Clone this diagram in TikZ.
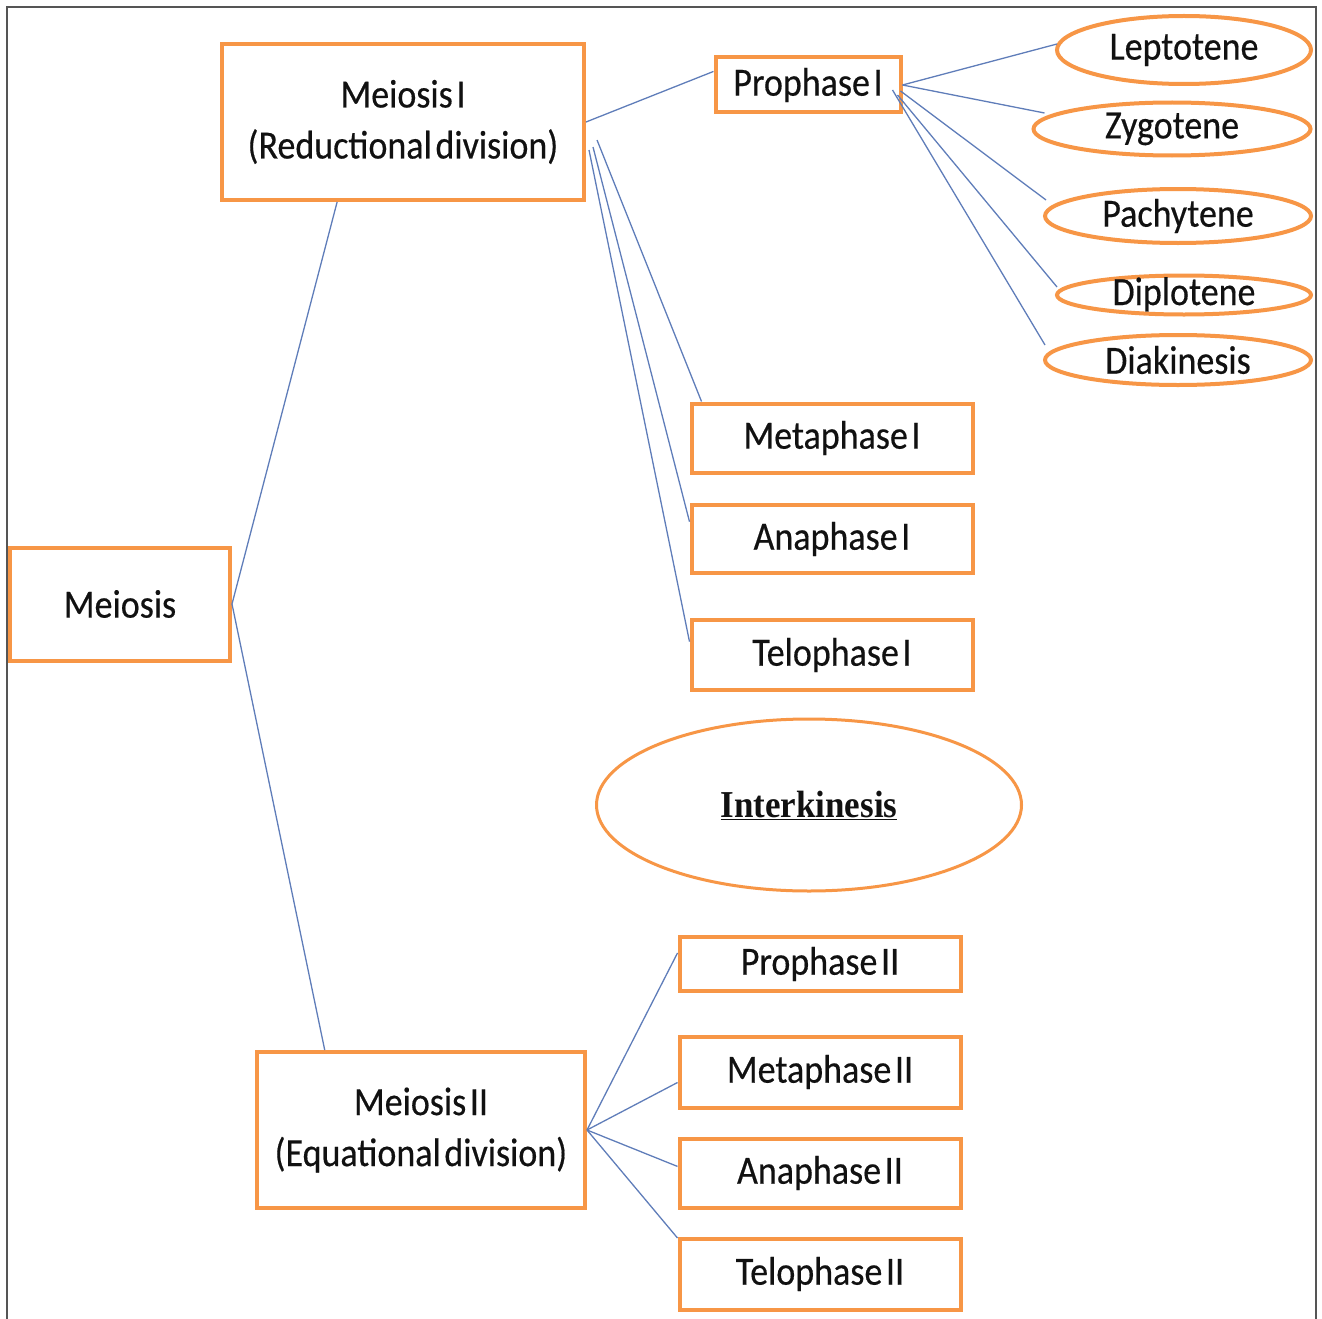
\documentclass[tikz,border=0pt]{standalone}
\usepackage{fontspec}
\setmainfont{Carlito}[FakeStretch=0.9, WordSpace=0.45, FakeBold=0.4]
\newfontfamily\ikfont{Liberation Serif}[FakeStretch=0.92]
\usetikzlibrary{shapes.geometric,calc}
\definecolor{boxorange}{HTML}{F79646}
\definecolor{linkblue}{RGB}{95,125,185}
\definecolor{frameg}{HTML}{555555}
\definecolor{txt}{HTML}{111111}
\tikzset{
  stagebox/.style={draw=boxorange, line width=4pt, fill=white, rectangle, inner sep=0pt,
    text=txt, align=center, font=\fontsize{40}{51}\selectfont},
  stageoval/.style={draw=boxorange, line width=4pt, fill=white, ellipse, inner sep=0pt,
    text=txt, font=\fontsize{40}{51}\selectfont},
  link/.style={draw=linkblue, line width=1.3pt}
}
\begin{document}
\begin{tikzpicture}[x=1pt, y=-1pt]
\useasboundingbox (0,0) rectangle (1322,1319);
\draw[frameg, line width=2pt] (7,1322) -- (7,7) -- (1316,7) -- (1316,1322);

% nodes
\node[stagebox, minimum width=220, minimum height=113] (m) at (120,604) {Meiosis};
\node[stagebox, minimum width=362, minimum height=156] (mI) at (403,122) {Meiosis I\\(Reductional division)};
\node[stagebox, minimum width=328, minimum height=156] (mII) at (421,1130) {Meiosis II\\(Equational division)};

\node[stagebox, minimum width=185, minimum height=55] (pI) at (808,85) {Prophase I};
\node[stagebox, minimum width=281, minimum height=69] (mtI) at (832,438) {Metaphase I};
\node[stagebox, minimum width=281, minimum height=68] (aI) at (832,539) {Anaphase I};
\node[stagebox, minimum width=281, minimum height=70] (tI) at (832,655) {Telophase I};

\node[stageoval, minimum width=254, minimum height=68] (lep) at (1184,50) {Leptotene};
\node[stageoval, minimum width=277, minimum height=53] (zyg) at (1172,129) {Zygotene};
\node[stageoval, minimum width=266, minimum height=54] (pac) at (1178,216) {Pachytene};
\node[stageoval, minimum width=254, minimum height=39, text height=20pt, text depth=0pt] (dip) at (1184,295) {Diplotene};
\node[stageoval, minimum width=266, minimum height=50] (dia) at (1178,360) {Diakinesis};

\node[stageoval, line width=3pt, minimum width=425, minimum height=172, font=\ikfont\bfseries\fontsize{38}{50}\selectfont] (ik) at (809,805) {\underline{Interkinesis}};

\node[stagebox, minimum width=281, minimum height=54] (pII) at (820,964) {Prophase II};
\node[stagebox, minimum width=281, minimum height=71] (mtII) at (820,1072) {Metaphase II};
\node[stagebox, minimum width=281, minimum height=69] (aII) at (820,1173) {Anaphase II};
\node[stagebox, minimum width=281, minimum height=71] (tII) at (820,1274) {Telophase II};

% connectors
\path[link] (m.east) -- ($(mI.south west)!0.32!(mI.south east)$);
\path[link] (m.east) -- ($(mII.north west)!0.21!(mII.north east)$);

\path[link] (mI.east) -- ($(pI.north west)!0.27!(pI.south west)$);
\path[link] ($(mI.east)+(11,18)$) -- ($(mtI.north west)+(12,0)$);
\path[link] ($(mI.east)+(7,25)$) -- ($(aI.north west)!0.26!(aI.south west)$);
\path[link] ($(mI.east)+(3,28)$) -- ($(tI.north west)!0.32!(tI.south west)$);

\path[link] (pI.east) -- ($(lep.west)+(2,-6)$);
\path[link] (pI.east) -- ($(zyg.west)+(13,-16)$);
\path[link] ($(pI.east)+(-2,6)$) -- ($(pac.west)+(3,-16)$);
\path[link] ($(pI.east)+(-5,10)$) -- ($(dip.west)+(2,-8)$);
\path[link] ($(pI.east)+(-10,5)$) -- ($(dia.west)+(2,-15)$);

\path[link] (mII.east) -- ($(pII.north west)!0.31!(pII.south west)$);
\path[link] (mII.east) -- ($(mtII.north west)!0.64!(mtII.south west)$);
\path[link] (mII.east) -- ($(aII.north west)!0.41!(aII.south west)$);
\path[link] (mII.east) -- ($(tII.north west)!0.02!(tII.south west)$);
\end{tikzpicture}
\end{document}
